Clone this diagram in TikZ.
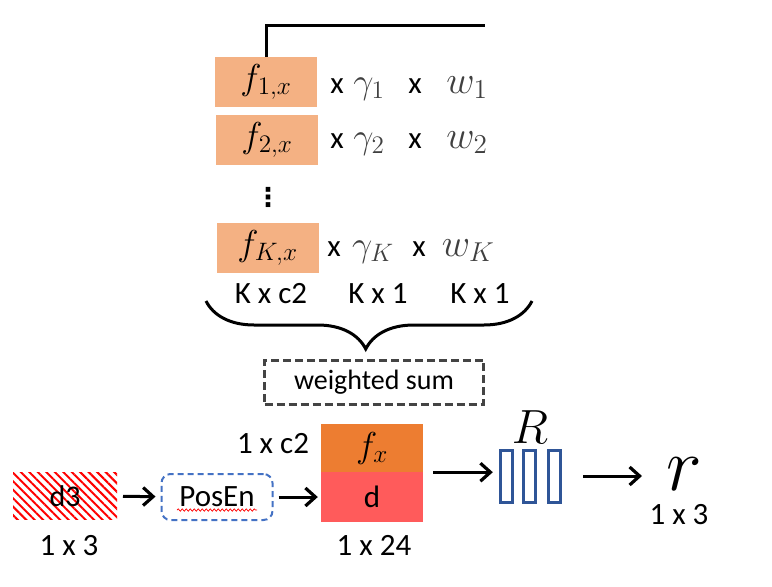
\documentclass[tikz,border=0pt]{standalone}
\usepackage[no-math]{fontspec}
\setmainfont{Carlito}
\newfontfamily\djvfont{DejaVu Sans}
\DeclareFontShape{OML}{cmm}{m}{it}{<-7.5>cmmi7<7.5-11>cmmi10<11->cmmi12}{}
\DeclareFontShape{OT1}{cmr}{m}{n}{<-7.5>cmr7<7.5-11>cmr10<11->cmr12}{}
\DeclareFontShape{OMS}{cmsy}{m}{n}{<-7.5>cmsy7<7.5->cmsy10}{}
\usetikzlibrary{arrows.meta,decorations.pathreplacing,decorations.pathmorphing,patterns.meta}
\definecolor{fboxc}{HTML}{F4B183}
\definecolor{fxc}{HTML}{ED7D31}
\definecolor{dc}{HTML}{FF5B5B}
\definecolor{posc}{HTML}{4472C4}
\definecolor{rblk}{HTML}{2F5597}
\definecolor{wsum}{HTML}{444444}
\definecolor{mg}{HTML}{404040}
\begin{document}
\begin{tikzpicture}[x=1pt,y=-1pt,
  lab/.style={font=\fontsize{31}{33}\selectfont,inner sep=0pt},
  mth/.style={font=\fontsize{36}{40}\selectfont,inner sep=0pt},
  fbx/.style={fill=fboxc,minimum width=102pt,minimum height=50pt,inner sep=0pt,font=\fontsize{36}{40}\selectfont},
  arr/.style={line width=3pt,-{Straight Barb[length=10pt,width=18pt,line width=3.2pt]}},
  rb/.style={draw=rblk,line width=3pt,minimum width=12pt,minimum height=52pt,inner sep=0pt},
]
\useasboundingbox (0,0) rectangle (772,587);

% feature rows
\node[fbx] (f1) at (266,82) {$f_{1,x}$};
\node[fbx] (f2) at (267,140) {$f_{2,x}$};
\node[fbx] (fK) at (267.5,248) {$f_{K,x}$};
\coordinate (topend) at (485,25);
\draw[line width=3pt] (f1.north) |- (topend);

\node[lab,anchor=base] (x1a) at (337,93) {x};
\node[mth,anchor=base,text=mg] (g1) at (369,93) {$\gamma_1$};
\node[lab,anchor=base] (x1b) at (415,93) {x};
\node[mth,anchor=base,text=mg,font=\fontsize{39}{42}\selectfont] (w1) at (467,93) {$w_1$};

\node[lab,anchor=base] (x2a) at (337,148) {x};
\node[mth,anchor=base,text=mg] (g2) at (369,148) {$\gamma_2$};
\node[lab,anchor=base] (x2b) at (415,148) {x};
\node[mth,anchor=base,text=mg,font=\fontsize{39}{42}\selectfont] (w2) at (467,148) {$w_2$};

\node[inner sep=0pt,font=\fontsize{26}{28}\djvfont\bfseries] (dots) at (268,197) {⋮};

\node[lab,anchor=base] (xKa) at (334,256) {x};
\node[mth,anchor=base,text=mg] (gK) at (373,256) {$\gamma_K$};
\node[lab,anchor=base] (xKb) at (419,256) {x};
\node[mth,anchor=base,text=mg,font=\fontsize{39}{42}\selectfont] (wK) at (468,256) {$w_K$};

\node[lab,anchor=base] (s1) at (271,303) {K x c2};
\node[lab,anchor=base] (s2) at (378,303) {K x 1};
\node[lab,anchor=base] (s3) at (480,303) {K x 1};

\coordinate (brR) at (532,301);
\coordinate (brL) at (206,301);
\draw[line width=3pt,decorate,decoration={brace,amplitude=48pt,aspect=0.51}] (brR) -- (brL);

\node[draw=wsum,dash pattern=on 8pt off 4pt,line width=3pt,minimum width=219pt,minimum height=44pt,lab,font=\fontsize{28}{30}\selectfont] (ws) at (374,382) {weighted sum};

% bottom chain
\node[lab,font=\fontsize{30}{32}\selectfont,minimum width=104pt,minimum height=47pt,pattern={Lines[angle=-45,distance=6pt,line width=2pt]},pattern color=red] (d3) at (65,496) {d3};
\node[lab,anchor=base] (d3s) at (69,555) {1 x 3};

\node[lab,draw=posc,dash pattern=on 6pt off 4pt,line width=2pt,rounded corners=9pt,minimum width=111pt,minimum height=46pt] (pos) at (217,497) {PosEn};
\draw[red,line width=0.7pt,decorate,decoration={snake,amplitude=1.2pt,segment length=4pt}] (177,510) -- (257,510);

\node[fbx,fill=fxc,minimum height=48pt] (fx) at (372,448) {$f_x$};
\node[lab,fill=dc,minimum width=102pt,minimum height=50pt] (d) at (372,497) {d};
\node[lab,anchor=base] (c2s) at (273,453) {1 x c2};
\node[lab,anchor=base] (d24) at (374,555) {1 x 24};

\node[minimum width=62pt,minimum height=54pt,inner sep=0pt] (Rg) at (530,476) {};
\node[rb] (r1) at (506,476) {};
\node[rb] (r2) at (529.5,476) {};
\node[rb] (r3) at (554,476) {};
\node[inner sep=0pt,font=\fontsize{48}{50}\selectfont,anchor=base] (Rl) at (530,443) {$R$};

\node[inner sep=0pt,font=\fontsize{76}{80}\selectfont,anchor=base] (r) at (684,490) {$r$};
\node[lab,anchor=base] (rs) at (679,524) {1 x 3};

\draw[arr,shorten <=5pt,shorten >=5pt] (d3) -- (pos);
\draw[arr,shorten <=5pt,shorten >=3pt] (pos) -- (d.west |- pos);
\draw[arr,shorten <=10pt,shorten >=6pt] (fx.south east) -- (fx.south east -| Rg.west);
\draw[arr,shorten <=22pt,shorten >=24pt] (Rg.east) -- (Rg.east -| r.west);
\end{tikzpicture}
\end{document}
